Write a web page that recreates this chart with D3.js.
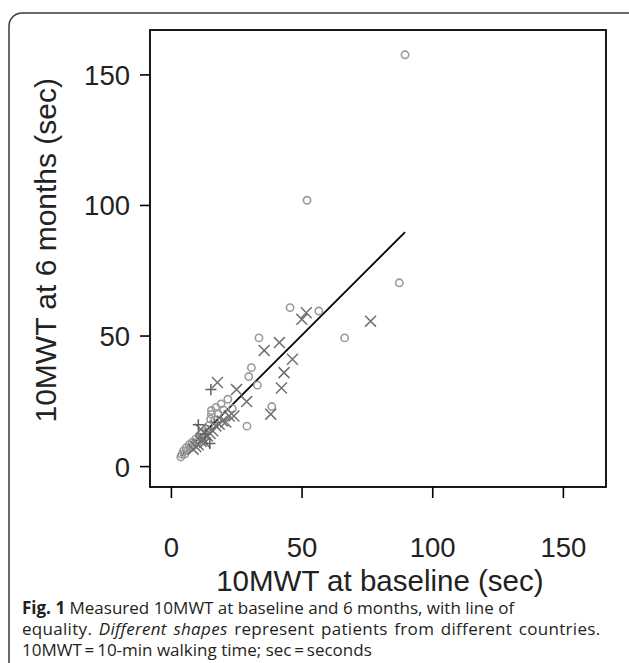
<!DOCTYPE html>
<html>
<head>
<meta charset="utf-8">
<script src="https://cdn.jsdelivr.net/npm/d3@7"></script>
<style>
  body { margin: 0; background: #fff; }
  svg { display: block; }
</style>
</head>
<body>
<svg id="chart" width="629" height="663"></svg>
<script>
// 10MWT (sec): [baseline, 6 months], one array per country (marker shape)
const circlePts = [
  [3.8, 3.5], [4.2, 4.5], [4.8, 5.8], [5.3, 4.6], [5.8, 7.0], [6.3, 6.0], [7.0, 8.2],
  [7.6, 7.0], [8.2, 9.2], [8.8, 8.0], [9.5, 10.3], [10.2, 9.0], [11.0, 11.2], [12.0, 12.5],
  [12.8, 11.0], [13.5, 14.2], [14.5, 15.5], [15.2, 18.0], [15.5, 19.8], [15.5, 21.3],
  [16.8, 17.5], [17.2, 22.5], [18.0, 20.2], [19.2, 23.8], [20.0, 21.5], [21.8, 25.6],
  [23.5, 22.0], [29.1, 15.3], [29.8, 34.3], [30.8, 37.7], [33.1, 31.0], [33.7, 49.1],
  [38.6, 22.8], [45.6, 60.7], [52.1, 101.8], [56.6, 59.4], [66.5, 49.1], [87.4, 70.2],
  [89.6, 157.5]
];
const crossPts = [
  [8.5, 6.5], [9.5, 7.5], [10.5, 8.2], [11.4, 14.1], [11.5, 9.5], [12.2, 10.5], [13.0, 9.0],
  [14.0, 11.5], [15.0, 12.5], [16.0, 13.5], [17.2, 15.4], [18.5, 16.0], [19.7, 17.3],
  [21.0, 16.9], [22.3, 19.2], [24.1, 19.2], [25.1, 29.3], [29.0, 24.7], [17.8, 32.0],
  [38.2, 19.9], [42.3, 29.9], [43.3, 35.8], [46.5, 40.9], [35.7, 44.3], [41.5, 47.3],
  [50.1, 56.2], [51.8, 58.7], [76.4, 55.5]
];
const plusPts = [
  [10.5, 15.8], [13.2, 12.2], [15.3, 29.3], [14.9, 8.7]
];
const tickVals = [0, 50, 100, 150];
const xTitle = "10MWT at baseline (sec)";
const yTitle = "10MWT at 6 months (sec)";

const svg = d3.select("#chart");

// outer figure box (rounded, runs off the right and bottom)
svg.append("rect")
  .attr("x", 9).attr("y", 13)
  .attr("width", 640).attr("height", 700)
  .attr("rx", 13)
  .attr("fill", "none")
  .attr("stroke", "#3a3a3a")
  .attr("stroke-width", 1.5);

const pL = 150, pR = 606, pT = 30, pB = 487;

const x = d3.scaleLinear().domain([-8, 166.5]).range([pL, pR]);
const y = d3.scaleLinear().domain([-8, 167]).range([pB, pT]);

const font = "'Liberation Sans', Arial, sans-serif";

// axes
const gy = svg.append("g")
  .attr("transform", `translate(${pL},0)`)
  .call(d3.axisLeft(y).tickValues(tickVals).tickSize(10).tickPadding(10));
const gx = svg.append("g")
  .attr("transform", `translate(0,${pB})`)
  .call(d3.axisBottom(x).tickValues(tickVals).tickSize(11));

[gx, gy].forEach(g => {
  g.select(".domain").remove();
  g.selectAll("line").attr("stroke", "#000").attr("stroke-width", 1.6);
  g.selectAll("text")
    .attr("font-family", font)
    .attr("font-size", 27.5)
    .attr("fill", "#222");
});
gx.selectAll("text").attr("y", 70).attr("dy", 0);
gy.selectAll("text").attr("dy", "0.36em");

// plot frame
svg.append("rect")
  .attr("x", pL).attr("y", pT)
  .attr("width", pR - pL).attr("height", pB - pT)
  .attr("fill", "none")
  .attr("stroke", "#000")
  .attr("stroke-width", 1.8);

// line of equality over the baseline range
const allPts = circlePts.concat(crossPts, plusPts);
const [lo, hi] = d3.extent(allPts, d => d[0]);
svg.append("line")
  .attr("x1", x(lo)).attr("y1", y(lo))
  .attr("x2", x(hi)).attr("y2", y(hi))
  .attr("stroke", "#000")
  .attr("stroke-width", 1.8);

// markers
svg.append("g").selectAll("path")
  .data(circlePts).join("path")
  .attr("d", d3.symbol(d3.symbolCircle, 42))
  .attr("transform", d => `translate(${x(d[0])},${y(d[1])})`)
  .attr("fill", "none")
  .attr("stroke", "#9a9a9a")
  .attr("stroke-width", 1.6);

svg.append("g").selectAll("path")
  .data(crossPts).join("path")
  .attr("d", d3.symbol(d3.symbolTimes, 80))
  .attr("transform", d => `translate(${x(d[0])},${y(d[1])})`)
  .attr("fill", "none")
  .attr("stroke", "#707070")
  .attr("stroke-width", 1.5);

svg.append("g").selectAll("path")
  .data(plusPts).join("path")
  .attr("d", d3.symbol(d3.symbolPlus, 42))
  .attr("transform", d => `translate(${x(d[0])},${y(d[1])})`)
  .attr("fill", "none")
  .attr("stroke", "#606060")
  .attr("stroke-width", 1.5);

// axis titles
svg.append("text")
  .attr("x", (x(0) + x(150)) / 2 + 13).attr("y", 591)
  .attr("text-anchor", "middle")
  .attr("font-family", font).attr("font-size", 29.5)
  .attr("fill", "#222")
  .text(xTitle);

svg.append("text")
  .attr("transform", `translate(56,${(y(0) + y(150)) / 2 - 20}) rotate(-90)`)
  .attr("text-anchor", "middle")
  .attr("font-family", font).attr("font-size", 30)
  .attr("fill", "#222")
  .text(yTitle);

// caption
const capFont = "'Open Sans', 'Noto Sans', sans-serif";
const cap = svg.append("g")
  .attr("font-family", capFont)
  .attr("font-size", 17)
  .attr("fill", "#231f20");

const l1 = cap.append("text").attr("x", 22).attr("y", 614);
l1.append("tspan").attr("font-weight", "bold").text("Fig. 1");
l1.append("tspan").text(" Measured 10MWT at baseline and 6 months, with line of");

const l2 = cap.append("text").attr("x", 22).attr("y", 635)
  .attr("letter-spacing", 0.3)
  .attr("word-spacing", 1.9);
l2.append("tspan").text("equality. ");
l2.append("tspan").attr("font-style", "italic").text("Different shapes");
l2.append("tspan").text(" represent patients from different countries.");

cap.append("text").attr("x", 22).attr("y", 656)
  .text("10MWT\u2009=\u200910-min walking time; sec\u2009=\u2009seconds");
</script>
</body>
</html>
